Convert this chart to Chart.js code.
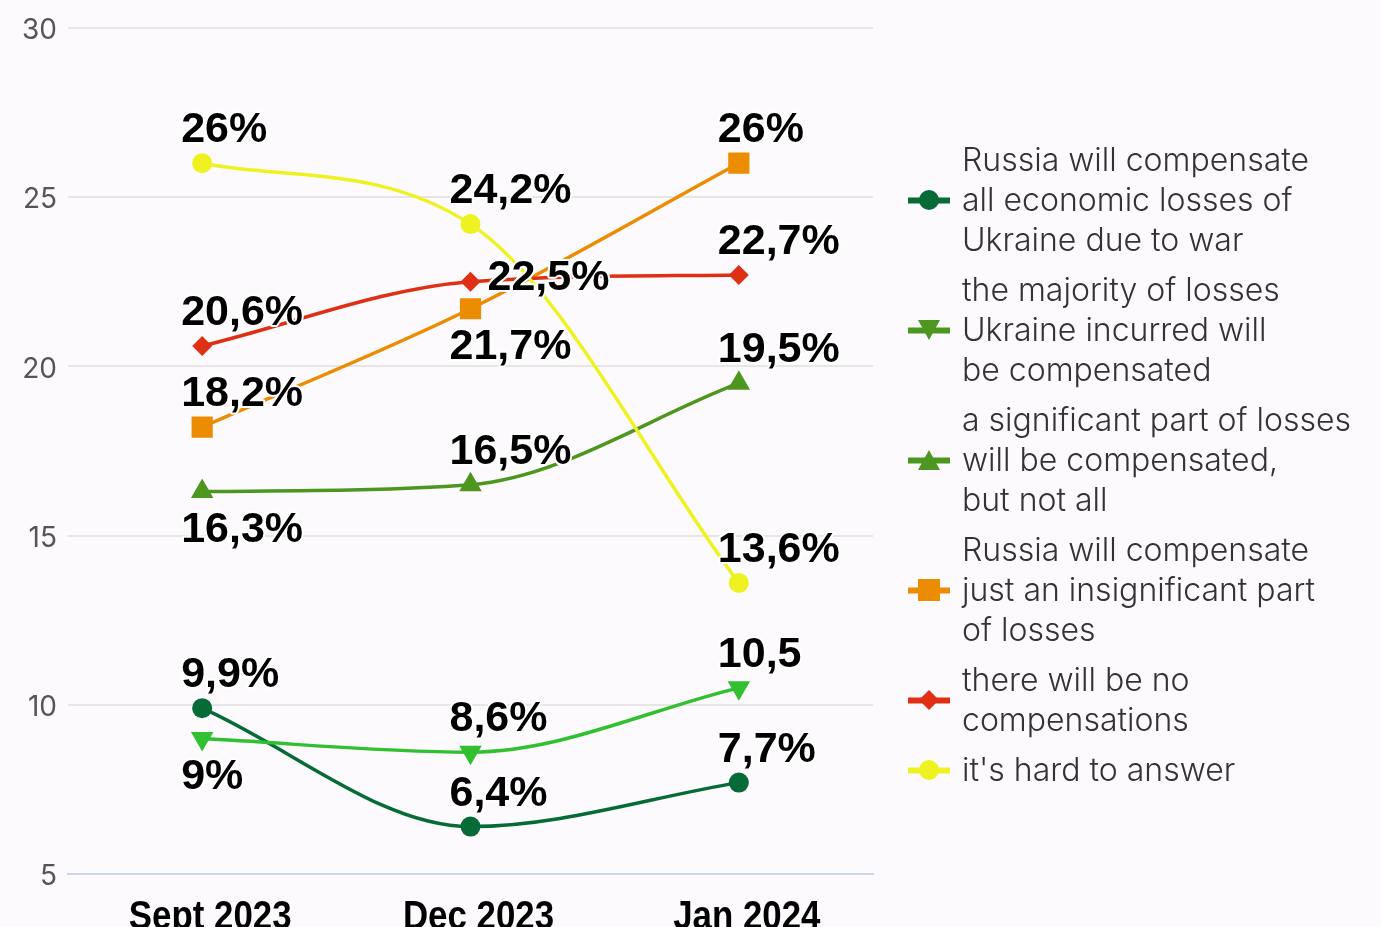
<!DOCTYPE html>
<html><head><meta charset="utf-8">
<script src="https://cdn.jsdelivr.net/npm/chart.js@4.4.1/dist/chart.umd.min.js"></script>
<style>
html,body{margin:0;padding:0;background:#fdfafd;width:1381px;height:927px;overflow:hidden;}
#wrap{position:relative;width:1381px;height:927px;}
#c{position:absolute;left:0;top:0;}
#legend{position:absolute;left:908px;top:140px;font-family:Inter,"Noto Sans",sans-serif;font-weight:300;font-size:32px;line-height:40px;color:#333;}
.item{display:flex;align-items:center;margin-bottom:10px;}
.item svg{flex:none;margin-right:12px;}
.item div{white-space:nowrap;}
</style></head><body>
<div id="wrap"><canvas id="c" width="1381" height="927"></canvas><div id="legend"></div></div>
<script>
const categories = ['Sept 2023', 'Dec 2023', 'Jan 2024'];
const yTicks = [5, 10, 15, 20, 25, 30];

const allCompensated = [9.9, 6.4, 7.7];
const majorityCompensated = [9, 8.6, 10.5];
const significantPart = [16.3, 16.5, 19.5];
const insignificantPart = [18.2, 21.7, 26];
const noCompensation = [20.6, 22.5, 22.7];
const hardToAnswer = [26, 24.2, 13.6];

const allCompensatedLabels = ['9,9%', '6,4%', '7,7%'];
const majorityCompensatedLabels = ['9%', '8,6%', '10,5'];
const significantPartLabels = ['16,3%', '16,5%', '19,5%'];
const insignificantPartLabels = ['18,2%', '21,7%', '26%'];
const noCompensationLabels = ['20,6%', '22,5%', '22,7%'];
const hardToAnswerLabels = ['26%', '24,2%', '13,6%'];

const seriesNames = [
  ['Russia will compensate', 'all economic losses of', 'Ukraine due to war'],
  ['the majority of losses', 'Ukraine incurred will', 'be compensated'],
  ['a significant part of losses', 'will be compensated,', 'but not all'],
  ['Russia will compensate', 'just an insignificant part', 'of losses'],
  ['there will be no', 'compensations'],
  ["it's hard to answer"]
];

const C = {
  dark: '#066b37', bright: '#30c030', olive: '#4d961f',
  orange: '#ec8c00', red: '#df2f14', yellow: '#eef220'
};

const datasets = [
  {data: allCompensated, valueLabels: allCompensatedLabels, labelPos: ['above','above','above'],
   borderColor: C.dark, backgroundColor: C.dark, pointStyle: 'circle', pointRadius: 10, legendColor: C.dark, legendShape: 'circle'},
  {data: majorityCompensated, valueLabels: majorityCompensatedLabels, labelPos: ['below','above','above'],
   borderColor: C.bright, backgroundColor: C.bright, pointStyle: 'triangle', pointRotation: 180, pointRadius: 13, legendColor: C.olive, legendShape: 'down'},
  {data: significantPart, valueLabels: significantPartLabels, labelPos: ['below','above','above'],
   borderColor: C.olive, backgroundColor: C.olive, pointStyle: 'triangle', pointRadius: 13, legendColor: C.olive, legendShape: 'up'},
  {data: insignificantPart, valueLabels: insignificantPartLabels, labelPos: ['above','below','above'],
   borderColor: C.orange, backgroundColor: C.orange, pointStyle: 'rect', pointRadius: 15, legendColor: C.orange, legendShape: 'square'},
  {data: noCompensation, valueLabels: noCompensationLabels, labelPos: ['above','right','above'],
   borderColor: C.red, backgroundColor: C.red, pointStyle: 'rectRot', pointRadius: 10, legendColor: C.red, legendShape: 'diamond'},
  {data: hardToAnswer, valueLabels: hardToAnswerLabels, labelPos: ['above','above','above'],
   borderColor: C.yellow, backgroundColor: C.yellow, pointStyle: 'circle', pointRadius: 10, legendColor: C.yellow, legendShape: 'circle'}
].map((d, i) => Object.assign({
  label: seriesNames[i].join(' '),
  borderWidth: 3.5,
  pointBorderWidth: 0,
  pointHoverRadius: d.pointRadius,
  cubicInterpolationMode: 'monotone',
  order: 6 - i
}, d));

const valueLabelPlugin = {
  id: 'valueLabels',
  afterDatasetsDraw(chart) {
    const ctx = chart.ctx;
    ctx.save();
    ctx.font = '700 43px "Liberation Sans", Arial, sans-serif';
    ctx.textBaseline = 'alphabetic';
    ctx.textAlign = 'left';
    ctx.lineJoin = 'round';
    ctx.strokeStyle = '#ffffff';
    ctx.lineWidth = 4;
    ctx.fillStyle = '#000000';
    chart.data.datasets.forEach((ds, i) => {
      const meta = chart.getDatasetMeta(i);
      meta.data.forEach((pt, j) => {
        const pos = ds.labelPos[j];
        let x = pt.x - 21, y;
        if (pos === 'above') y = pt.y - 21;
        else if (pos === 'below') y = pt.y + 50;
        else { x = pt.x + 17; y = pt.y + 8; }
        ctx.strokeText(ds.valueLabels[j], x, y);
        ctx.fillText(ds.valueLabels[j], x, y);
      });
    });
    ctx.restore();
  }
};

// category labels drawn as condensed bold text under each tick
const xLabelPlugin = {
  id: 'xLabels',
  afterDraw(chart) {
    const ctx = chart.ctx;
    const xs = chart.scales.x;
    ctx.save();
    ctx.font = '700 41px "Liberation Sans", Arial, sans-serif';
    ctx.fillStyle = '#000';
    ctx.textAlign = 'center';
    ctx.textBaseline = 'alphabetic';
    xs.ticks.forEach((t, i) => {
      const px = xs.getPixelForTick(i) + 8;
      ctx.save();
      ctx.translate(px, xs.top + 55);
      ctx.scale(0.85, 1);
      ctx.fillText(xs.getLabelForValue(t.value), 0, 0);
      ctx.restore();
    });
    ctx.restore();
  }
};

new Chart(document.getElementById('c'), {
  type: 'line',
  data: {labels: categories, datasets},
  options: {
    responsive: false,
    animation: false,
    layout: {padding: {left: 0, right: 508, top: 25, bottom: 0}},
    plugins: {legend: {display: false}, tooltip: {enabled: false}},
    scales: {
      x: {
        offset: true,
        grid: {display: false, drawTicks: false},
        border: {color: '#ccd6eb', width: 2},
        ticks: {display: false},
        afterFit(s) { s.height = 53; }
      },
      y: {
        min: yTicks[0], max: yTicks[yTicks.length - 1],
        afterBuildTicks(s) { s.ticks = yTicks.map(v => ({value: v})); },
        ticks: {padding: 11, labelOffset: 3, color: '#555', font: {family: 'Inter', size: 28}},
        grid: {color: '#e6e6e6', lineWidth: 2, drawTicks: false},
        border: {display: false},
        afterFit(s) { s.width = 68; }
      }
    }
  },
  plugins: [valueLabelPlugin, xLabelPlugin]
});

// HTML legend
function markerSvg(color, shape) {
  let m = '';
  if (shape === 'circle') m = `<circle cx="21" cy="14" r="10" fill="${color}"/>`;
  else if (shape === 'down') m = `<polygon points="10,4 32,4 21,24" fill="${color}"/>`;
  else if (shape === 'up') m = `<polygon points="10,24 32,24 21,4" fill="${color}"/>`;
  else if (shape === 'square') m = `<rect x="10" y="3" width="22" height="22" fill="${color}"/>`;
  else if (shape === 'diamond') m = `<polygon points="21,4 31,14 21,24 11,14" fill="${color}"/>`;
  return `<svg width="42" height="28" viewBox="0 0 42 28"><rect x="0" y="11.5" width="42" height="6" fill="${color}"/>${m}</svg>`;
}
const legend = document.getElementById('legend');
datasets.forEach((ds, i) => {
  const item = document.createElement('div');
  item.className = 'item';
  item.innerHTML = markerSvg(ds.legendColor, ds.legendShape) + '<div>' + seriesNames[i].join('<br>') + '</div>';
  legend.appendChild(item);
});
</script>
</body></html>
